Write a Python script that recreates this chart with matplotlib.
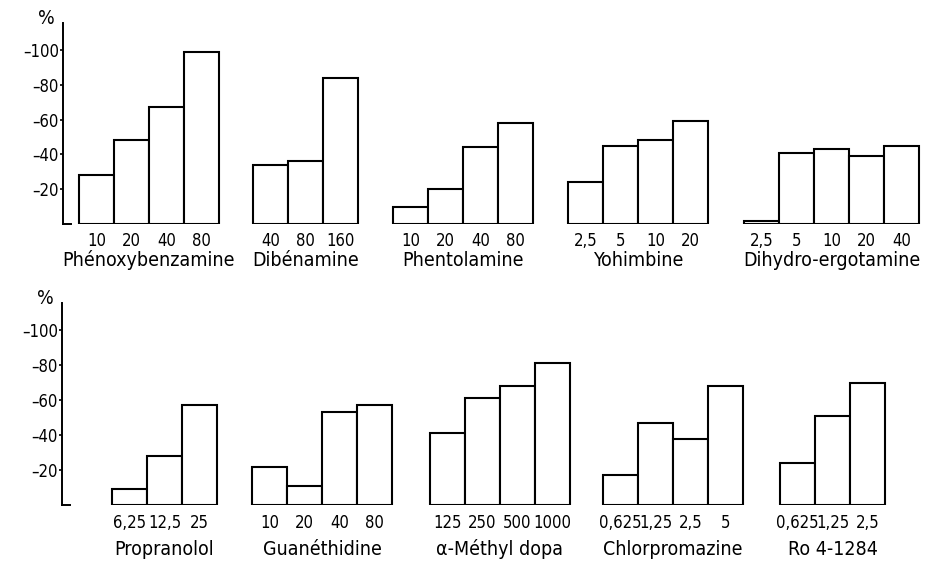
import matplotlib
matplotlib.use("Agg")
import matplotlib.pyplot as plt
from matplotlib import font_manager as fm

# ── data (percent decrease) ────────────────────────────────────────────────
drugs_top = ["Phénoxybenzamine", "Dibénamine", "Phentolamine", "Yohimbine",
             "Dihydro-ergotamine"]
doses_top = [["10", "20", "40", "80"],
             ["40", "80", "160"],
             ["10", "20", "40", "80"],
             ["2,5", "5", "10", "20"],
             ["2,5", "5", "10", "20", "40"]]
values_top = [[28, 48, 67, 99],
              [34, 36, 84],
              [10, 20, 44, 58],
              [24, 45, 48, 59],
              [1.5, 41, 43, 39, 45]]

drugs_bot = ["Propranolol", "Guanéthidine", "α-Méthyl dopa", "Chlorpromazine",
             "Ro 4-1284"]
doses_bot = [["6,25", "12,5", "25"],
             ["10", "20", "40", "80"],
             ["125", "250", "500", "1000"],
             ["0,625", "1,25", "2,5", "5"],
             ["0,625", "1,25", "2,5"]]
values_bot = [[9, 28, 57],
              [22, 11, 53, 57],
              [41, 61, 68, 81],
              [17, 47, 38, 68],
              [24, 51, 70]]

y_ticks = [20, 40, 60, 80, 100]
y_ticklabels = ["–20", "–40", "–60", "–80", "–100"]

# ── layout (pixel units of the 933 px wide canvas) ─────────────────────────
W, H = 933, 564
BAR_W = 35
starts_top = [79, 253, 393, 568, 744]
starts_bot = [112, 252, 430, 603, 780]


def condensed_path():
    for f in fm.fontManager.ttflist:
        if (f.name == "DejaVu Sans" and f.stretch == "condensed"
                and f.style == "normal" and f.weight in (400, "normal")):
            return f.fname
    return None


_cond = condensed_path()
if _cond:
    NUM_FP = fm.FontProperties(fname=_cond, size=12)
    NAME_FP = fm.FontProperties(fname=_cond, size=14)
    PCT_FP = fm.FontProperties(fname=_cond, size=14)
else:
    NUM_FP = fm.FontProperties(family="Roboto", size=11.5)
    NAME_FP = fm.FontProperties(family="DejaVu Sans", size=12.5)
    PCT_FP = fm.FontProperties(family="DejaVu Sans", size=13)

fig = plt.figure(figsize=(W / 100, H / 100), dpi=100)
fig.patch.set_facecolor("white")


def draw_row(base_px, top_px, px_per_unit, starts, drugs, doses, values,
             dose_off, name_off, axis_x=63):
    ax = fig.add_axes([0, (H - base_px) / H, 1, (base_px - top_px) / H])
    ax.set_xlim(0, W)
    ax.set_ylim(0, (base_px - top_px) / px_per_unit)
    ax.patch.set_alpha(0)

    for s in ["top", "right"]:
        ax.spines[s].set_visible(False)
    ax.spines["left"].set_position(("data", axis_x))
    ax.spines["bottom"].set_bounds(axis_x, axis_x + 8)
    for s in ["left", "bottom"]:
        ax.spines[s].set_linewidth(1.4)

    ax.set_yticks(y_ticks)
    ax.set_yticklabels(y_ticklabels, fontproperties=NUM_FP)
    ax.tick_params(axis="y", direction="out", length=2, width=1.2, pad=1)

    xt, xl = [], []
    for x0, drug, d, v in zip(starts, drugs, doses, values):
        xs = [x0 + i * BAR_W for i in range(len(v))]
        ax.bar(xs, v, width=BAR_W, align="edge", facecolor="white",
               edgecolor="black", linewidth=1.5, joinstyle="miter")
        xt += [x + BAR_W / 2 for x in xs]
        xl += d
        ax.annotate(drug, xy=(x0 + len(v) * BAR_W / 2, 0),
                    xytext=(0, -name_off * 0.72), textcoords="offset points",
                    ha="center", va="baseline", fontproperties=NAME_FP,
                    annotation_clip=False)

    ax.set_xticks(xt)
    ax.set_xticklabels(xl, fontproperties=NUM_FP)
    for lbl in ax.get_xticklabels():
        lbl.set_va("baseline")
    ax.tick_params(axis="x", length=0, pad=dose_off * 0.72)

    ax.annotate("%", xy=(axis_x, ax.get_ylim()[1]), xytext=(-17 * 0.72, 4 * 0.72),
                textcoords="offset points", ha="center", va="center",
                fontproperties=PCT_FP, annotation_clip=False)
    return ax


draw_row(224, 23, 1.74, starts_top, drugs_top, doses_top, values_top,
         dose_off=22, name_off=42)
draw_row(505, 303, 1.75, starts_bot, drugs_bot, doses_bot, values_bot,
         dose_off=23, name_off=50, axis_x=62)

fig.savefig("out.png", dpi=100, facecolor="white")
